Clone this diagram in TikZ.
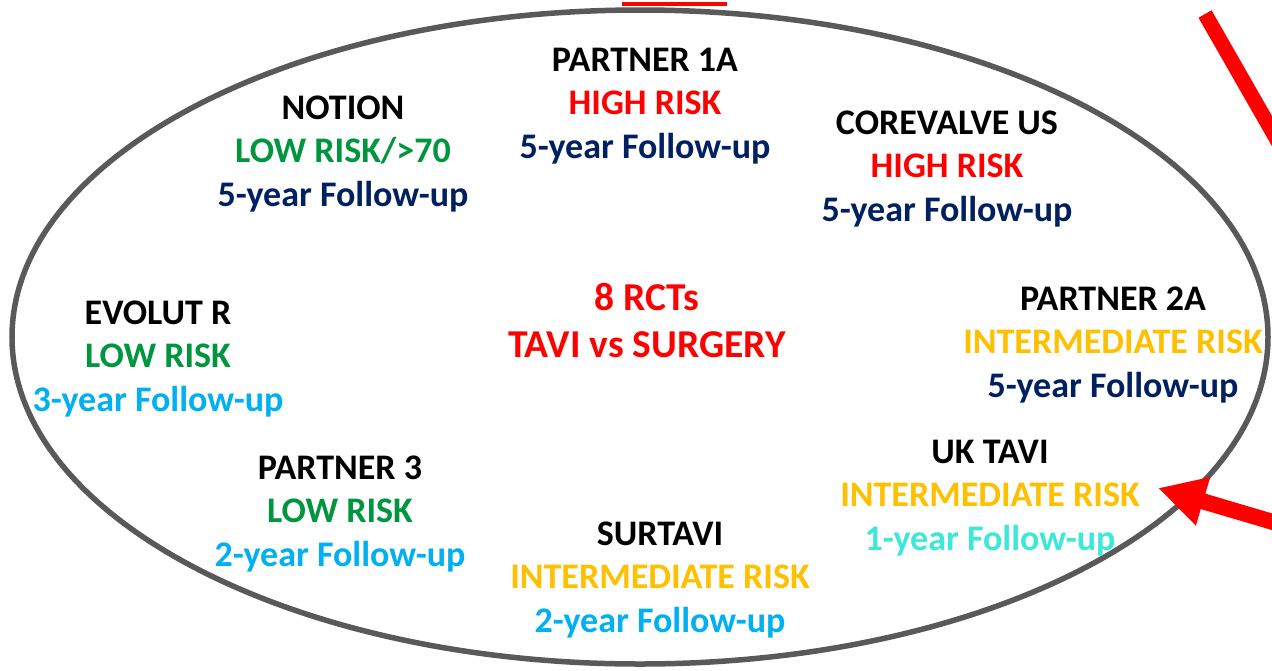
\documentclass[tikz,border=0pt]{standalone}
\usepackage{fontspec}
\setmainfont{Carlito}
\usetikzlibrary{arrows.meta}
\definecolor{navy}{HTML}{002060}
\definecolor{rred}{HTML}{FF0000}
\definecolor{rgreen}{HTML}{00963F}
\definecolor{rorange}{HTML}{FFC000}
\definecolor{rblue}{HTML}{00B0F0}
\definecolor{rturq}{HTML}{3DE8D8}
\definecolor{rgray}{HTML}{595959}
\tikzset{
  trial/.style={align=center, inner sep=0pt, font=\bfseries\fontsize{36}{43.5}\selectfont},
  title/.style={align=center, inner sep=0pt, text=rred, font=\bfseries\fontsize{39.5}{47}\selectfont},
  redline/.style={draw=rred, line width=15pt},
}
\begin{document}
\begin{tikzpicture}[x=1pt,y=-1pt]
\useasboundingbox (0,0) rectangle (1272,670);
\clip (0,0) rectangle (1272,670);
\fill[white] (0,0) rectangle (1272,670);
\draw[rgray, line width=5.5pt] (640,337) ellipse [x radius=628, y radius=327];
\fill[rred] (622,2) rectangle (727,6);

\node[title] (rct) at (647,321) {8 RCTs\\TAVI vs SURGERY};

\node[trial] (p1a) at (645,106) {PARTNER 1A\\\textcolor{rred}{HIGH RISK}\\\textcolor{navy}{5-year Follow-up}};
\node[trial] (notion) at (343,154) {NOTION\\\textcolor{rgreen}{LOW RISK/>70}\\\textcolor{navy}{5-year Follow-up}};
\node[trial] (cv) at (947,169) {COREVALVE US\\\textcolor{rred}{HIGH RISK}\\\textcolor{navy}{5-year Follow-up}};
\node[trial] (evr) at (158,359) {EVOLUT R\\\textcolor{rgreen}{LOW RISK}\\\textcolor{rblue}{3-year Follow-up}};
\node[trial] (p2a) at (1113,345) {PARTNER 2A\\\textcolor{rorange}{INTERMEDIATE RISK}\\\textcolor{navy}{5-year Follow-up}};
\node[trial] (p3) at (340,514) {PARTNER 3\\\textcolor{rgreen}{LOW RISK}\\\textcolor{rblue}{2-year Follow-up}};
\node[trial] (uk) at (990,498) {UK TAVI\\\textcolor{rorange}{INTERMEDIATE RISK}\\\textcolor{rturq}{1-year Follow-up}};
\node[trial] (sur) at (660,580) {SURTAVI\\\textcolor{rorange}{INTERMEDIATE RISK}\\\textcolor{rblue}{2-year Follow-up}};

\coordinate (a1s) at (1205,14);
\coordinate (a1e) at (1300,180);
\draw[redline] (a1s) -- (a1e);
\coordinate (a2s) at (1300,530);
\coordinate (a2tip) at (1158,488);
\draw[redline, line width=16pt, -{Triangle[length=47pt,width=47pt]}] (a2s) -- (a2tip);
\end{tikzpicture}
\end{document}
